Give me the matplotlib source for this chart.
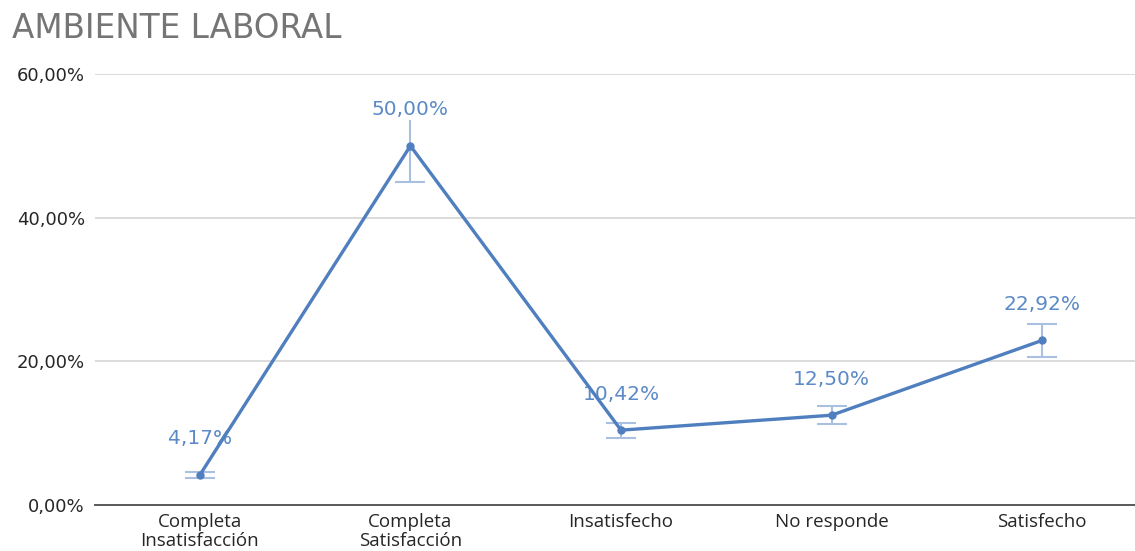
import matplotlib.pyplot as plt
import numpy as np

categorias = ['Completa\nInsatisfacción', 'Completa\nSatisfacción', 'Insatisfecho',
              'No responde', 'Satisfecho']
valores = [4.17, 50.00, 10.42, 12.50, 22.92]
etiquetas = ['4,17%', '50,00%', '10,42%', '12,50%', '22,92%']
yticks = [0, 20, 40, 60]
ytick_labels = ['0,00%', '20,00%', '40,00%', '60,00%']

# barras de error del 10 %
errores = [v * 0.10 for v in valores]

plt.rcParams['font.family'] = ['DejaVu Sans']

fig = plt.figure(figsize=(11.35, 5.51), dpi=100)
ax = fig.add_axes([94.5 / 1135, 1 - 505 / 551, (1147.5 - 94.5) / 1135, (505 - 74) / 551])

x = np.arange(len(categorias))
ax.errorbar(x, valores, yerr=errores, fmt='none', ecolor='#a9c0e0', elinewidth=1.5,
            capsize=11, capthick=1.5, zorder=2)
ax.plot(x, valores, color='#4f7fbf', linewidth=2.4, marker='o', markersize=5, zorder=4)

for xi, v, t in zip(x, valores, etiquetas):
    ax.annotate(t, (xi, v), xytext=(0, 26), textcoords='offset points', ha='center',
                va='center', color='#5b8ac6', fontsize=14.5, zorder=3,
                bbox=dict(facecolor='white', edgecolor='none', pad=0.5))

ax.set_xlim(-0.5, 4.5)
ax.set_ylim(0, 60)
ax.set_yticks(yticks)
ax.set_yticklabels(ytick_labels, fontsize=13, color='#262626')
ax.set_xticks(x)
ax.set_xticklabels(categorias, fontsize=13.5, color='#262626', linespacing=1.02,
                   family='Open Sans')
ax.tick_params(axis='both', length=0)
ax.tick_params(axis='y', pad=7)
ax.tick_params(axis='x', pad=6)

ax.grid(axis='y', color='#d4d4d4', linewidth=1.2)
ax.set_axisbelow(True)
for s in ['top', 'right', 'left']:
    ax.spines[s].set_visible(False)
ax.spines['bottom'].set_color('#595959')
ax.spines['bottom'].set_linewidth(1.4)

fig.text(12 / 1135, 1 - 28 / 551, 'AMBIENTE LABORAL', fontsize=23.5, color='#757575',
         ha='left', va='center')

fig.savefig('out.png', dpi=100)
